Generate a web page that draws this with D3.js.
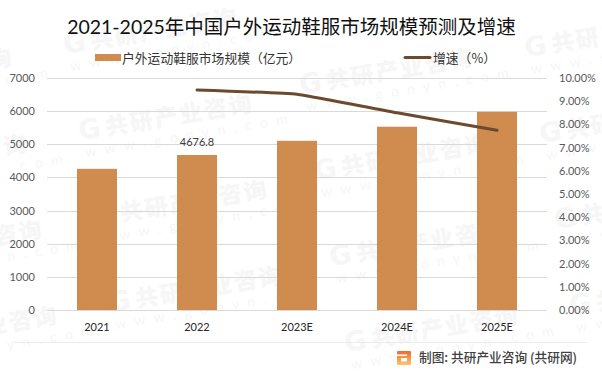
<!DOCTYPE html>
<html>
<head>
<meta charset="utf-8">
<script src="https://cdn.jsdelivr.net/npm/d3@7/dist/d3.min.js"></script>
<style>
  html, body { margin: 0; padding: 0; background: #fff; }
  svg { display: block; }
</style>
</head>
<body>
<svg class="chart"></svg>
<script>
var categories = ['2021', '2022', '2023E', '2024E', '2025E'];
var marketSize = [4260, 4676.8, 5105, 5530, 5980];
var growth = [null, 9.48, 9.3, 8.5, 7.75];
var leftTicks = [0, 1000, 2000, 3000, 4000, 5000, 6000, 7000];
var rightTicks = [0, 1, 2, 3, 4, 5, 6, 7, 8, 9, 10];

var W = 602, H = 375;
var margin = {top: 78, right: 55, bottom: 65, left: 47},
    width = W - margin.left - margin.right,
    height = H - margin.top - margin.bottom;

var cjk = '"Noto Sans CJK SC", sans-serif';
var latin = 'Lato, "Noto Sans CJK SC", sans-serif';
var barColor = '#d08c4f', lineColor = '#6b4a30', gridColor = '#d9d9d9', wmColor = '#f6f6f6';

var svg = d3.select('.chart').attr('width', W).attr('height', H);

var defs = svg.append('defs');
var grad = defs.append('linearGradient').attr('id', 'logoGrad')
    .attr('x1', 0).attr('y1', 0).attr('x2', 0).attr('y2', 1);
grad.append('stop').attr('offset', 0).attr('stop-color', '#ee6a2c');
grad.append('stop').attr('offset', 1).attr('stop-color', '#fbc56b');

// watermark, repeated in staggered columns behind the chart
var wm = svg.append('g').attr('class', 'watermark');
function stamp(x0, y0) {
  var g = wm.append('g').attr('transform', 'translate(' + x0 + ',' + y0 + ') rotate(-9.5)');
  g.append('text').attr('x', 0).attr('y', 0)
      .style('font-family', '"DejaVu Sans", sans-serif').style('font-weight', 700)
      .style('font-size', '27px').attr('fill', wmColor).text('G');
  g.append('text').attr('x', 27).attr('y', 0)
      .style('font-family', cjk).style('font-weight', 900)
      .style('font-size', '23px').style('letter-spacing', '2px')
      .attr('fill', wmColor).text('共研产业咨询');
  g.append('text').attr('x', 3).attr('y', 18)
      .style('font-family', 'Lato, sans-serif')
      .style('font-size', '14px').style('letter-spacing', '8.5px')
      .attr('fill', wmColor).text('www.gonyn.com');
}
[[-160, 94], [65, 54], [301, 94], [526, 57]].forEach(function(c) {
  for (var r = 0; r < 4; r++) stamp(c[0] + r * 15, c[1] + r * 86);
});

var x = d3.scaleBand().domain(categories).range([0, width]);
var y = d3.scaleLinear().domain([0, 7000]).range([height, 0]);
var y2 = d3.scaleLinear().domain([0, 10]).range([height, 0]);

var plot = svg.append('g').attr('transform', 'translate(' + margin.left + ',' + margin.top + ')');

plot.append('g').selectAll('line')
    .data(leftTicks)
  .enter().append('line')
    .attr('x1', 0).attr('x2', width)
    .attr('y1', function(d) { return Math.round(y(d)) + 0.5; })
    .attr('y2', function(d) { return Math.round(y(d)) + 0.5; })
    .attr('stroke', gridColor).attr('stroke-width', 1);

plot.append('g').selectAll('rect')
    .data(marketSize)
  .enter().append('rect')
    .attr('x', function(d, i) { return x(categories[i]) + x.bandwidth() * 0.3; })
    .attr('width', x.bandwidth() * 0.4)
    .attr('y', function(d) { return y(d); })
    .attr('height', function(d) { return height - y(d); })
    .attr('fill', barColor);

var line = d3.line()
    .defined(function(d) { return d !== null; })
    .x(function(d, i) { return x(categories[i]) + x.bandwidth() / 2; })
    .y(function(d) { return y2(d); })
    .curve(d3.curveCardinal.tension(0.7));

plot.append('path')
    .datum(growth)
    .attr('d', line)
    .attr('fill', 'none')
    .attr('stroke', lineColor)
    .attr('stroke-width', 3)
    .attr('stroke-linecap', 'round');

// only 2022 carries a data label
plot.append('text')
    .attr('x', x(categories[1]) + x.bandwidth() / 2)
    .attr('y', y(marketSize[1]) - 9)
    .attr('text-anchor', 'middle')
    .style('font-family', latin).style('font-size', '11px')
    .attr('fill', '#404040')
    .text('4676.8');

var yAxis = d3.axisLeft(y).tickValues(leftTicks).tickSize(0).tickPadding(12)
    .tickFormat(function(d) { return d; });
var yAxis2 = d3.axisRight(y2).tickValues(rightTicks).tickSize(0).tickPadding(12)
    .tickFormat(function(d) { return d.toFixed(2) + '%'; });
var xAxis = d3.axisBottom(x).tickSize(0).tickPadding(13);

var gl = plot.append('g').call(yAxis);
var gr = plot.append('g').attr('transform', 'translate(' + width + ',0)').call(yAxis2);
var gx = plot.append('g').attr('transform', 'translate(0,' + height + ')').call(xAxis);
gl.select('.domain').remove();
gr.select('.domain').remove();
gx.select('.domain').remove();
gl.selectAll('text').style('font-family', latin).style('font-size', '11px').attr('fill', '#595959');
gr.selectAll('text').style('font-family', latin).style('font-size', '11px').attr('fill', '#595959');
gx.selectAll('text').style('font-family', latin).style('font-size', '11px').attr('fill', '#262626');

// title
svg.append('text')
    .attr('x', 291.5).attr('y', 34)
    .attr('text-anchor', 'middle')
    .style('font-family', latin).style('font-size', '19.5px')
    .attr('fill', '#111')
    .text('2021-2025年中国户外运动鞋服市场规模预测及增速');

// legend
var leg = svg.append('g');
leg.append('rect').attr('x', 95).attr('y', 54).attr('width', 26).attr('height', 7).attr('fill', barColor);
leg.append('text').attr('x', 122).attr('y', 63)
    .style('font-family', cjk).style('font-size', '12.8px').attr('fill', '#333')
    .text('户外运动鞋服市场规模（亿元）');
leg.append('line').attr('x1', 405).attr('x2', 430).attr('y1', 57.5).attr('y2', 57.5)
    .attr('stroke', lineColor).attr('stroke-width', 3).attr('stroke-linecap', 'round');
leg.append('text').attr('x', 433).attr('y', 63)
    .style('font-family', cjk).style('font-size', '12.8px').attr('fill', '#333')
    .text('增速（%）');

// footer
svg.append('line').attr('x1', 14).attr('x2', 587).attr('y1', 342.5).attr('y2', 342.5)
    .attr('stroke', '#ececec').attr('stroke-width', 1);
svg.append('rect').attr('x', 397).attr('y', 351).attr('width', 14).attr('height', 14)
    .attr('rx', 1).attr('fill', 'url(#logoGrad)');
svg.append('rect').attr('x', 397).attr('y', 354.5).attr('width', 10).attr('height', 1.5).attr('fill', '#fff');
svg.append('rect').attr('x', 401).attr('y', 358).attr('width', 6).attr('height', 3.5).attr('fill', '#fff');
svg.append('text').attr('x', 419).attr('y', 362)
    .style('font-family', cjk).style('font-size', '12.7px').style('font-weight', 500)
    .attr('fill', '#404040')
    .text('制图: 共研产业咨询 (共研网)');
</script>
</body>
</html>
